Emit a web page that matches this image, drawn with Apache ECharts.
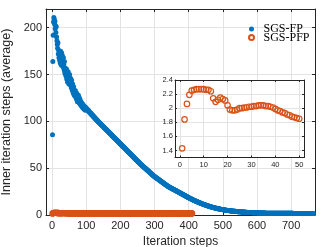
<!DOCTYPE html>
<html>
<head>
<meta charset="utf-8">
<script src="https://cdn.jsdelivr.net/npm/echarts@6/dist/echarts.min.js"></script>
<style>html,body{margin:0;padding:0;background:#fff;}#c{width:324px;height:247px;}</style>
</head>
<body>
<div id="c"></div>
<script>
// SGS-FP: average inner iteration steps per outer iteration (index 1..765)
const fpSteps = [
85.7,164,192,206,211,209,204,207,199,202,
195,201,190,186,182,178,184,172,176,168,
174,165,171,162,175,169,160,173,166,170,
163,158,168,161,155,164,152,157,150,154,
148,156,145,151,142,149,153,144,140,147,
150,143,139,146,141,136,144,138,133,140,
135,130,137,132,128,131,127,133,126,129,
124,130,125,121,127,123,128,122,120,125,
119,123,118,121,117,120,116,119,115,118,
114,117,115,113,116,114,112,115,113,114,
113.6,113.2,112.4,112.8,111.6,111.2,111.5,110.4,110,109.8,
109.2,108.6,108.8,108,107.4,107.6,106.8,106.2,106.4,105.6,
105.2,104.6,104.8,104,103.4,103.6,102.8,102.2,102.4,101.6,
101.2,100.6,100.8,100,99.6,99.2,99.4,98.6,98.2,98,
97.6,97.3,96.9,96.5,96.2,95.8,95.4,95.1,94.7,94.4,
94.0,93.6,93.3,92.9,92.5,92.2,91.8,91.4,91.1,90.7,
90.3,90.0,89.6,89.2,88.9,88.5,88.1,87.8,87.4,87.0,
86.7,86.3,85.9,85.6,85.2,84.8,84.5,84.1,83.7,83.4,
83.0,82.6,82.3,81.9,81.5,81.2,80.8,80.4,80.1,79.7,
79.3,79.0,78.6,78.2,77.9,77.5,77.1,76.8,76.4,76.0,
75.6,75.3,74.9,74.5,74.2,73.8,73.4,73.1,72.7,72.3,
72.0,71.6,71.2,70.9,70.5,70.1,69.8,69.4,69.0,68.7,
68.3,67.9,67.6,67.2,66.8,66.5,66.1,65.7,65.4,65.0,
64.6,64.3,63.9,63.5,63.2,62.8,62.4,62.1,61.7,61.3,
61.0,60.6,60.2,59.9,59.5,59.1,58.8,58.4,58.0,57.7,
57.3,56.9,56.6,56.2,55.8,55.5,55.1,54.7,54.4,54.0,
53.7,53.3,53.0,52.7,52.4,52.0,51.7,51.4,51.1,50.8,
50.4,50.1,49.8,49.5,49.1,48.8,48.5,48.2,47.8,47.5,
47.2,46.9,46.5,46.2,45.9,45.6,45.2,44.9,44.6,44.3,
43.9,43.6,43.3,43.0,42.6,42.3,42.0,41.7,41.3,41.0,
40.7,40.5,40.2,39.9,39.7,39.4,39.2,38.9,38.6,38.4,
38.1,37.9,37.6,37.3,37.1,36.8,36.5,36.3,36.0,35.8,
35.5,35.2,35.0,34.7,34.5,34.2,33.9,33.7,33.4,33.1,
32.9,32.6,32.4,32.1,31.8,31.6,31.3,31.0,30.8,30.5,
30.3,30.1,29.9,29.7,29.5,29.3,29.1,28.9,28.7,28.5,
28.3,28.1,27.9,27.7,27.5,27.3,27.1,26.9,26.7,26.5,
26.3,26.1,25.9,25.7,25.5,25.3,25.1,24.9,24.7,24.5,
24.3,24.1,23.9,23.7,23.5,23.3,23.1,22.9,22.7,22.5,
22.3,22.1,21.9,21.7,21.5,21.3,21.1,20.9,20.7,20.5,
20.3,20.1,19.9,19.7,19.5,19.3,19.1,18.9,18.7,18.5,
18.3,18.1,17.9,17.7,17.6,17.4,17.2,17.0,16.8,16.7,
16.5,16.3,16.1,16.0,15.8,15.6,15.5,15.3,15.1,15.0,
14.8,14.6,14.5,14.3,14.2,14.0,13.8,13.7,13.5,13.4,
13.2,13.1,12.9,12.8,12.6,12.5,12.3,12.2,12.0,11.9,
11.8,11.6,11.5,11.3,11.2,11.1,10.9,10.8,10.7,10.5,
10.4,10.3,10.2,10.0,9.9,9.8,9.7,9.5,9.4,9.3,
9.2,9.1,9.0,8.9,8.7,8.6,8.5,8.4,8.3,8.2,
8.1,8.0,7.9,7.8,7.7,7.6,7.5,7.4,7.3,7.2,
7.2,7.1,7.0,6.9,6.8,6.7,6.7,6.6,6.5,6.4,
6.3,6.3,6.2,6.1,6.0,6.0,5.9,5.8,5.8,5.7,
5.6,5.6,5.5,5.4,5.4,5.3,5.3,5.2,5.1,5.1,
5.0,5.0,4.9,4.9,4.8,4.8,4.7,4.7,4.6,4.6,
4.5,4.5,4.4,4.4,4.3,4.3,4.3,4.2,4.2,4.1,
4.1,4.0,4.0,4.0,3.9,3.9,3.9,3.8,3.8,3.7,
3.7,3.7,3.6,3.6,3.6,3.5,3.5,3.5,3.4,3.4,
3.4,3.4,3.3,3.3,3.3,3.2,3.2,3.2,3.2,3.1,
3.1,3.1,3.0,3.0,3.0,3.0,2.9,2.9,2.9,2.9,
2.8,2.8,2.8,2.8,2.8,2.7,2.7,2.7,2.7,2.6,
2.6,2.6,2.6,2.6,2.5,2.5,2.5,2.5,2.5,2.4,
2.4,2.4,2.4,2.4,2.4,2.3,2.3,2.3,2.3,2.3,
2.3,2.3,2.2,2.2,2.2,2.2,2.2,2.2,2.2,2.1,
2.1,2.1,2.1,2.1,2.1,2.1,2.1,2.1,2.1,2.1,
2.1,2.1,2.1,2.0,2.0,2.0,2.0,2.0,2.0,2.0,
2.0,2.0,2.0,2.0,2.0,2.0,2.0,2.0,1.9,1.9,
1.9,1.9,1.9,1.9,1.9,1.9,1.9,1.9,1.9,1.9,
1.9,1.9,1.9,1.9,1.9,1.9,1.9,1.9,1.9,1.9,
1.9,1.9,1.9,1.9,1.9,1.9,1.8,1.8,1.8,1.8,
1.8,1.8,1.8,1.8,1.8,1.8,1.8,1.8,1.8,1.8,
1.8,1.8,1.8,1.8,1.8,1.8,1.8,1.8,1.8,1.8,
1.8,1.8,1.8,1.8,1.8,1.8,1.8,1.8,1.8,1.8,
1.8,1.8,1.8,1.8,1.8,1.7,1.7,1.7,1.7,1.7,
1.7,1.7,1.7,1.7,1.7,1.7,1.7,1.7,1.7,1.7,
1.7,1.7,1.7,1.7,1.7,1.7,1.7,1.7,1.7,1.7,
1.7,1.7,1.7,1.7,1.7,1.7,1.7,1.7,1.7,1.7,
1.7,1.7,1.7,1.6,1.6,1.6,1.6,1.6,1.6,1.6,
1.6,1.6,1.6,1.6,1.6,1.6,1.6,1.6,1.6,1.6,
1.6,1.6,1.6,1.6,1.6
];

// SGS-PFP: average inner iteration steps per outer iteration (index 1..410)
const pfpSteps = [
1.43,1.84,2.06,2.19,2.25,2.26,2.27,2.27,2.27,2.27,
2.26,2.26,2.24,2.14,2.09,2.12,2.15,2.13,2.11,2.04,
1.98,1.97,1.97,1.98,2.00,2.00,2.01,2.01,2.02,2.02,
2.03,2.03,2.04,2.04,2.04,2.03,2.03,2.02,2.01,1.99,
1.97,1.96,1.94,1.93,1.91,1.90,1.88,1.87,1.86,1.85,
1.84,1.84,1.83,1.83,1.83,1.82,1.82,1.82,1.81,1.81,
1.81,1.80,1.80,1.80,1.80,1.79,1.79,1.79,1.79,1.78,
1.78,1.78,1.78,1.78,1.77,1.77,1.77,1.77,1.77,1.76,
1.76,1.76,1.76,1.77,1.77,1.77,1.78,1.78,1.78,1.79,
1.79,1.79,1.80,1.80,1.80,1.80,1.81,1.81,1.81,1.81,
1.81,1.82,1.82,1.82,1.82,1.82,1.82,1.82,1.82,1.81,
1.81,1.81,1.81,1.81,1.80,1.80,1.80,1.80,1.79,1.79,
1.79,1.79,1.78,1.78,1.78,1.78,1.77,1.77,1.77,1.77,
1.77,1.76,1.76,1.76,1.76,1.76,1.75,1.75,1.75,1.75,
1.75,1.75,1.75,1.75,1.75,1.75,1.76,1.76,1.76,1.76,
1.76,1.77,1.77,1.77,1.77,1.78,1.78,1.78,1.78,1.78,
1.79,1.79,1.79,1.79,1.79,1.79,1.79,1.79,1.79,1.79,
1.79,1.78,1.78,1.78,1.78,1.78,1.77,1.77,1.77,1.77,
1.77,1.76,1.76,1.76,1.76,1.76,1.75,1.75,1.75,1.75,
1.75,1.75,1.74,1.74,1.74,1.74,1.74,1.74,1.74,1.74,
1.74,1.74,1.74,1.74,1.74,1.75,1.75,1.75,1.75,1.75,
1.75,1.76,1.76,1.76,1.76,1.76,1.76,1.76,1.77,1.77,
1.77,1.77,1.77,1.77,1.77,1.77,1.77,1.77,1.77,1.77,
1.76,1.76,1.76,1.76,1.76,1.76,1.75,1.75,1.75,1.75,
1.75,1.75,1.74,1.74,1.74,1.74,1.74,1.74,1.73,1.73,
1.73,1.73,1.73,1.73,1.73,1.73,1.73,1.73,1.73,1.73,
1.73,1.73,1.74,1.74,1.74,1.74,1.74,1.74,1.74,1.74,
1.75,1.75,1.75,1.75,1.75,1.75,1.75,1.75,1.75,1.75,
1.75,1.75,1.75,1.75,1.75,1.74,1.74,1.74,1.74,1.74,
1.74,1.74,1.73,1.73,1.73,1.73,1.73,1.73,1.73,1.72,
1.72,1.72,1.72,1.72,1.72,1.72,1.72,1.72,1.72,1.72,
1.72,1.72,1.72,1.72,1.72,1.72,1.72,1.73,1.73,1.73,
1.73,1.73,1.73,1.73,1.73,1.73,1.73,1.73,1.73,1.73,
1.73,1.73,1.73,1.73,1.73,1.73,1.72,1.72,1.72,1.72,
1.72,1.72,1.72,1.72,1.72,1.71,1.71,1.71,1.71,1.71,
1.71,1.71,1.71,1.71,1.71,1.71,1.71,1.71,1.71,1.71,
1.71,1.71,1.71,1.71,1.71,1.71,1.71,1.71,1.71,1.71,
1.71,1.71,1.71,1.71,1.71,1.71,1.71,1.71,1.71,1.71,
1.71,1.71,1.71,1.70,1.70,1.70,1.70,1.70,1.70,1.70,
1.70,1.70,1.70,1.70,1.70,1.70,1.70,1.70,1.70,1.70,
1.70,1.70,1.70,1.70,1.70,1.70,1.70,1.70,1.70,1.70
];

// inset shows the first 50 outer iterations of SGS-PFP
const insetCount = 50;

const seriesNames = ['SGS-FP', 'SGS-PFP'];
const axisTitles = { x: 'Iteration steps', y: 'Inner iteration steps (average)' };

const BLUE = '#0072BD', ORANGE = '#D95319', AX = '#262626', GRID = '#e3e3e3';
const SANS = '"Liberation Sans", Arial, Helvetica, sans-serif';

const fpData = fpSteps.map((v, i) => [i + 1, v]);
const pfpData = pfpSteps.map((v, i) => [i + 1, v]);
const insetData = pfpData.slice(0, insetCount);

function axisBase(o) {
  return Object.assign({
    type: 'value',
    axisLine: { show: true, onZero: false, lineStyle: { color: AX, width: 1 } },
    axisTick: { show: true, inside: true, length: 3, lineStyle: { color: AX, width: 1 } },
    splitLine: { show: false },
    axisLabel: { show: false }
  }, o);
}
const mainLabel = { show: true, fontSize: 11, color: AX, fontFamily: SANS, showMinLabel: false, showMaxLabel: false };
const insetLabel = { show: true, fontSize: 7.5, color: AX, fontFamily: SANS, showMinLabel: false, showMaxLabel: false };

const chart = echarts.init(document.getElementById('c'), null, { renderer: 'canvas' });
chart.setOption({
  animation: false,
  backgroundColor: '#fff',
  textStyle: { fontFamily: SANS },
  grid: [
    { left: 46, top: 9, width: 269, height: 206, containLabel: false, outerBoundsMode: 'none' },
    { left: 175, top: 80, width: 129, height: 77.5, show: true, backgroundColor: '#fff', borderWidth: 0, z: 10,
      containLabel: false, outerBoundsMode: 'none' }
  ],
  legend: {
    data: seriesNames,
    orient: 'vertical',
    left: 243, top: 18,
    itemWidth: 14, itemHeight: 5, itemGap: -3.5,
    textStyle: { fontFamily: '"Liberation Serif", "Times New Roman", serif', fontSize: 12, color: '#000' }
  },
  xAxis: [
    axisBase({ gridIndex: 0, position: 'bottom', min: -18, max: 770, splitNumber: 8,
      axisLabel: Object.assign({ margin: 5 }, mainLabel),
      splitLine: { show: true, lineStyle: { color: GRID, width: 1 } },
      name: axisTitles.x, nameLocation: 'middle', nameGap: 18,
      nameTextStyle: { fontSize: 12, color: AX, fontFamily: SANS } }),
    axisBase({ gridIndex: 0, position: 'top', min: -18, max: 770, splitNumber: 8 }),
    axisBase({ gridIndex: 1, position: 'bottom', min: -2, max: 52, splitNumber: 5, z: 11,
      axisTick: { show: true, inside: true, length: 2, lineStyle: { color: AX } },
      axisLabel: Object.assign({ margin: 3 }, insetLabel),
      splitLine: { show: true, lineStyle: { color: GRID, width: 1 } } }),
    axisBase({ gridIndex: 1, position: 'top', min: -2, max: 52, splitNumber: 5, z: 11,
      axisTick: { show: true, inside: true, length: 2, lineStyle: { color: AX } } })
  ],
  yAxis: [
    axisBase({ gridIndex: 0, position: 'left', min: 0, max: 220, interval: 50,
      axisLabel: Object.assign({ margin: 4 }, mainLabel, { showMinLabel: true }),
      splitLine: { show: true, lineStyle: { color: GRID, width: 1 } },
      name: axisTitles.y, nameLocation: 'middle', nameGap: 20, nameRotate: 90,
      nameTextStyle: { fontSize: 12.5, color: AX, fontFamily: SANS } }),
    axisBase({ gridIndex: 0, position: 'right', min: 0, max: 220, interval: 50 }),
    axisBase({ gridIndex: 1, position: 'left', min: 1.3, max: 2.4, splitNumber: 5, z: 11,
      axisTick: { show: true, inside: true, length: 2, lineStyle: { color: AX } },
      axisLabel: Object.assign({}, insetLabel, { margin: 2, showMaxLabel: true }),
      splitLine: { show: true, lineStyle: { color: GRID, width: 1 } } }),
    axisBase({ gridIndex: 1, position: 'right', min: 1.3, max: 2.4, splitNumber: 5, z: 11,
      axisTick: { show: true, inside: true, length: 2, lineStyle: { color: AX } } })
  ],
  series: [
    { name: seriesNames[0], type: 'scatter', xAxisIndex: 0, yAxisIndex: 0, data: fpData,
      symbol: 'circle', symbolSize: 5, itemStyle: { color: BLUE, opacity: 1 }, z: 2 },
    { name: seriesNames[1], type: 'scatter', xAxisIndex: 0, yAxisIndex: 0, data: pfpData,
      symbol: 'circle', symbolSize: 5,
      itemStyle: { color: 'rgba(255,255,255,0)', borderColor: ORANGE, borderWidth: 1.3, opacity: 1 }, z: 3 },
    { name: seriesNames[1], type: 'scatter', xAxisIndex: 2, yAxisIndex: 2, data: insetData,
      symbol: 'circle', symbolSize: 5.5,
      itemStyle: { color: 'rgba(255,255,255,0)', borderColor: ORANGE, borderWidth: 1.2, opacity: 1 }, z: 12 }
  ]
});
</script>
</body>
</html>
